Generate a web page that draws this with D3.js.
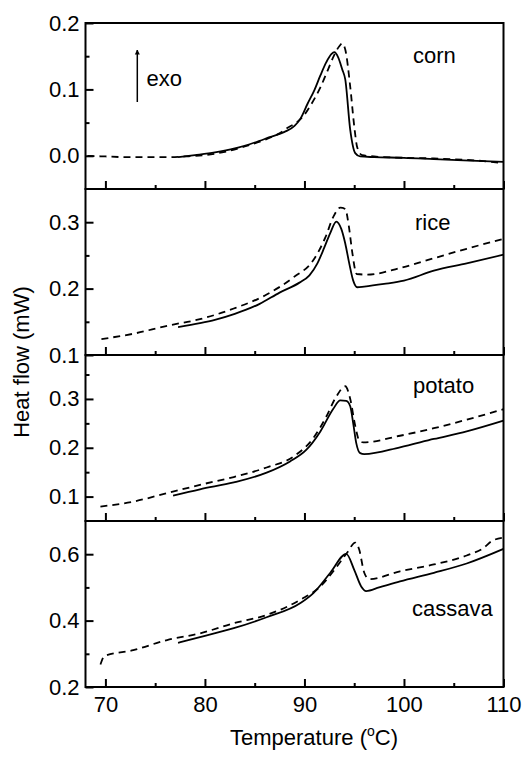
<!DOCTYPE html>
<html><head><meta charset="utf-8">
<script src="https://cdn.jsdelivr.net/npm/d3@7"></script>
<style>
html,body{margin:0;padding:0;background:#fff;}
svg{display:block;font-family:"Liberation Sans",Arial,sans-serif;}
</style></head>
<body>
<svg id="c" width="528" height="759"></svg>
<script>
// ---- data ----
const panelNames = ["corn", "rice", "potato", "cassava"];
const xTicks = [70, 80, 90, 100, 110];
const xMinorTicks = [75, 85, 95, 105];
const yDomains = [[-0.05, 0.2], [0.1, 0.35], [0.05, 0.39], [0.2, 0.7]];
const yTicks = [[0.0, 0.1, 0.2], [0.1, 0.2, 0.3], [0.1, 0.2, 0.3], [0.2, 0.4, 0.6]];
const yMinorTicks = [[0.05, 0.15], [0.15, 0.25], [0.15, 0.25, 0.35], [0.3, 0.5]];

const cornSolidT = [77.3, 79, 81, 83, 85, 86.5, 88, 89, 89.6, 90.3, 91, 91.6, 92.2, 92.7, 93.0, 93.4, 93.8, 94.1, 94.6, 95.1, 95.6, 97, 100, 103, 106, 110];
const cornSolidV = [-0.002, 0.001, 0.005, 0.011, 0.020, 0.028, 0.036, 0.045, 0.056, 0.078, 0.099, 0.121, 0.141, 0.153, 0.156, 0.148, 0.130, 0.115, 0.039, 0.004, -0.001, -0.002, -0.003, -0.005, -0.007, -0.009];
const cornDashT = [68.2, 70, 72, 74, 76, 78, 80, 82, 84, 86, 87.5, 88.4, 89.2, 89.9, 90.7, 91.6, 92.4, 93.0, 93.5, 93.8, 94.1, 94.6, 95.0, 95.3, 95.8, 97, 100, 103, 106, 108, 110];
const cornDashV = [0.0, -0.001, -0.002, -0.002, -0.002, -0.001, 0.001, 0.006, 0.014, 0.024, 0.034, 0.043, 0.050, 0.060, 0.078, 0.103, 0.131, 0.152, 0.165, 0.169, 0.160, 0.104, 0.045, 0.013, 0.001, -0.001, -0.003, -0.004, -0.006, -0.008, -0.011];

const riceSolidT = [77.3, 79.5, 81, 83, 85.5, 87.5, 89.5, 90.5, 91.3, 92, 92.6, 93.2, 93.7, 94.1, 94.5, 94.9, 95.3, 96, 98, 100, 103, 106.3, 110];
const riceSolidV = [0.142, 0.148, 0.153, 0.162, 0.177, 0.194, 0.209, 0.22, 0.238, 0.262, 0.284, 0.301, 0.29, 0.268, 0.238, 0.212, 0.202, 0.203, 0.207, 0.212, 0.227, 0.238, 0.251];
const riceDashT = [69.6, 72.8, 76.2, 79.5, 82.9, 86.2, 88.9, 90.9, 92.1, 92.9, 93.6, 94.1, 94.45, 94.8, 95.25, 96.3, 99.6, 103, 106.3, 110];
const riceDashV = [0.124, 0.132, 0.144, 0.154, 0.170, 0.191, 0.217, 0.243, 0.277, 0.308, 0.322, 0.32, 0.295, 0.255, 0.222, 0.221, 0.231, 0.2457, 0.26, 0.275];

const potatoSolidT = [76.8, 79.5, 82.9, 86.2, 88.55, 90.2, 91.6, 92.9, 93.6, 94.2, 94.6, 94.9, 95.2, 95.6, 96, 99.6, 103, 106.3, 110];
const potatoSolidV = [0.102, 0.115, 0.129, 0.149, 0.172, 0.196, 0.2335, 0.28, 0.297, 0.296, 0.285, 0.25, 0.21, 0.189, 0.187, 0.201, 0.218, 0.2335, 0.2555];
const potatoDashT = [69.5, 72.8, 76.2, 79.5, 82.9, 86.2, 88.9, 90.9, 92.2, 93.2, 94.1, 94.6, 95.1, 95.5, 95.9, 99.6, 103, 106.3, 110];
const potatoDashV = [0.0795, 0.0897, 0.107, 0.124, 0.14, 0.1596, 0.182, 0.22, 0.264, 0.305, 0.326, 0.3, 0.245, 0.215, 0.211, 0.2246, 0.24, 0.2575, 0.279];

const cassavaSolidT = [77.3, 79.5, 82.9, 86.2, 89.6, 90.9, 92.6, 94.2, 95.0, 95.7, 96.2, 97.5, 99.6, 103, 106.3, 110];
const cassavaSolidV = [0.333, 0.35, 0.377, 0.41, 0.453, 0.483, 0.544, 0.601, 0.553, 0.503, 0.489, 0.5, 0.518, 0.544, 0.572, 0.616];
const cassavaDashT = [69.5, 69.9, 72.8, 76.2, 79.5, 82.9, 86.2, 89.6, 91.6, 92.9, 94.3, 95.1, 95.5, 96.0, 96.5, 99.6, 103, 106.3, 108, 108.8, 110];
const cassavaDashV = [0.268, 0.293, 0.311, 0.3415, 0.3616, 0.392, 0.417, 0.463, 0.503, 0.5485, 0.605, 0.635, 0.614, 0.545, 0.525, 0.5485, 0.569, 0.596, 0.619, 0.639, 0.65];

const solidSeries = [[cornSolidT, cornSolidV], [riceSolidT, riceSolidV], [potatoSolidT, potatoSolidV], [cassavaSolidT, cassavaSolidV]];
const dashSeries = [[cornDashT, cornDashV], [riceDashT, riceDashV], [potatoDashT, potatoDashV], [cassavaDashT, cassavaDashV]];

// ---- layout ----
const mLeft = 85.5, mRight = 503.5, mTop = 23, mBottom = 687;
const nP = 4, ph = (mBottom - mTop) / nP;
const fs = 22;
const svg = d3.select("#c");
const x = d3.scaleLinear().domain([68, 110]).range([mLeft, mRight]);
const mkLine = (ys) => d3.line().x(d => x(d[0])).y(d => ys(d[1])).curve(d3.curveMonotoneX);
const zip = (a, b) => a.map((t, i) => [t, b[i]]);

const labelPos = [[413, 62.7], [415, 230], [413, 393], [412, 616]];

for (let i = 0; i < nP; i++) {
  const y0 = mTop + i * ph, y1 = y0 + ph;
  const y = d3.scaleLinear().domain(yDomains[i]).range([y1, y0]);
  const g = svg.append("g");

  // curves
  g.append("path").datum(zip(dashSeries[i][0], dashSeries[i][1]))
    .attr("d", mkLine(y)).attr("fill", "none").attr("stroke", "#000")
    .attr("stroke-width", 1.8).attr("stroke-dasharray", "7,5");
  g.append("path").datum(zip(solidSeries[i][0], solidSeries[i][1]))
    .attr("d", mkLine(y)).attr("fill", "none").attr("stroke", "#000")
    .attr("stroke-width", 1.8);

  // left axis major
  const ya = g.append("g").attr("transform", `translate(${mLeft},0)`)
    .call(d3.axisLeft(y).tickValues(yTicks[i]).tickFormat(d3.format(".1f")).tickSizeInner(-8).tickSizeOuter(0).tickPadding(6));
  ya.select(".domain").remove();
  ya.selectAll("line").attr("stroke", "#000").attr("stroke-width", 2);
  ya.selectAll("text").attr("font-size", fs).attr("fill", "#000").attr("font-family", "Liberation Sans, Arial, sans-serif");
  const ym = g.append("g").attr("transform", `translate(${mLeft},0)`)
    .call(d3.axisLeft(y).tickValues(yMinorTicks[i]).tickFormat("").tickSizeInner(-4).tickSizeOuter(0));
  ym.select(".domain").remove();
  ym.selectAll("line").attr("stroke", "#000").attr("stroke-width", 2);

  // bottom axis ticks (inward)
  const xa = g.append("g").attr("transform", `translate(0,${y1})`)
    .call(d3.axisBottom(x).tickValues(xTicks).tickSizeInner(-8).tickSizeOuter(0).tickPadding(9)
      .tickFormat(i === nP - 1 ? d3.format("d") : ""));
  xa.select(".domain").remove();
  xa.selectAll("line").attr("stroke", "#000").attr("stroke-width", 2);
  xa.selectAll("text").attr("font-size", fs).attr("fill", "#000").attr("font-family", "Liberation Sans, Arial, sans-serif");
  const xm = g.append("g").attr("transform", `translate(0,${y1})`)
    .call(d3.axisBottom(x).tickValues(xMinorTicks).tickSizeInner(-4).tickSizeOuter(0).tickFormat(""));
  xm.select(".domain").remove();
  xm.selectAll("line").attr("stroke", "#000").attr("stroke-width", 2);

  // frame
  g.append("rect").attr("x", mLeft).attr("y", y0).attr("width", mRight - mLeft).attr("height", ph)
    .attr("fill", "none").attr("stroke", "#000").attr("stroke-width", 2);

  // panel label
  g.append("text").attr("x", labelPos[i][0]).attr("y", labelPos[i][1])
    .attr("font-size", fs).attr("fill", "#000").text(panelNames[i]);
}

// exo arrow
svg.append("defs").append("marker").attr("id", "ah").attr("viewBox", "0 0 10 10")
  .attr("refX", 9).attr("refY", 5).attr("markerWidth", 5).attr("markerHeight", 10)
  .attr("markerUnits", "userSpaceOnUse").attr("orient", "auto")
  .append("path").attr("d", "M0,0 L10,5 L0,10 z").attr("fill", "#000");
svg.append("line").attr("x1", 137.3).attr("y1", 102).attr("x2", 137.3).attr("y2", 50)
  .attr("stroke", "#000").attr("stroke-width", 1.5).attr("marker-end", "url(#ah)");
svg.append("text").attr("x", 146.5).attr("y", 86).attr("font-size", fs).attr("fill", "#000").text("exo");

// axis titles
const xt = svg.append("text").attr("x", 314).attr("y", 745).attr("text-anchor", "middle")
  .attr("font-size", fs).attr("fill", "#000");
xt.append("tspan").text("Temperature (");
xt.append("tspan").attr("font-size", 14).attr("dy", -9).text("o");
xt.append("tspan").attr("dy", 9).text("C)");

svg.append("text").attr("transform", `translate(29,${(mTop + mBottom) / 2 + 7}) rotate(-90)`)
  .attr("text-anchor", "middle").attr("font-size", fs).attr("fill", "#000").text("Heat flow (mW)");
</script>
</body></html>
